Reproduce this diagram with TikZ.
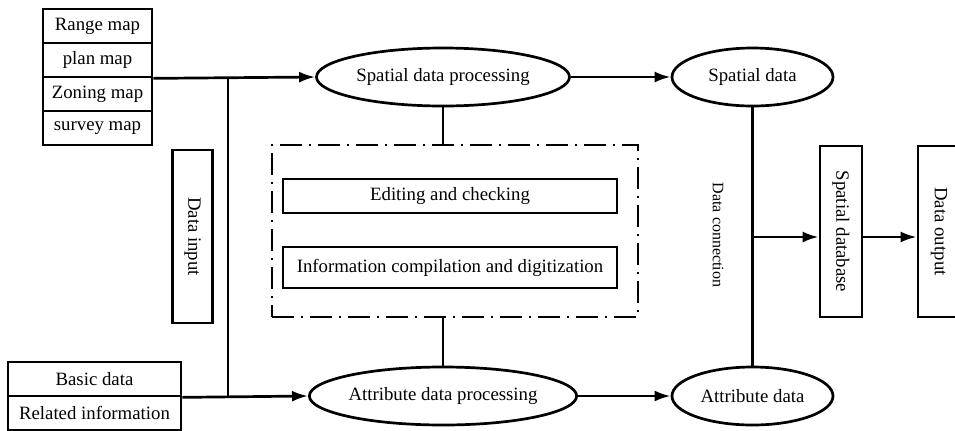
\documentclass[tikz,border=0pt]{standalone}
\usepackage{fontspec}
\setmainfont{Liberation Serif}
\usetikzlibrary{shapes.geometric, arrows.meta}

\begin{document}
\begin{tikzpicture}[x=0.5pt, y=-0.5pt, line width=1.35pt,
  >={Latex[length=8pt,width=5.5pt]},
  font=\fontsize{9.4}{11}\selectfont,
  mapbox/.style={draw, rectangle, inner sep=0pt, minimum width=54.5pt, minimum height=17pt},
  infobox/.style={draw, rectangle, inner sep=0pt, minimum width=86.5pt, minimum height=17pt},
  taskbox/.style={draw, rectangle, inner sep=0pt, minimum width=167pt},
  vbox/.style={draw, rectangle, rotate=-90, inner sep=0pt, minimum height=20pt},
  proc/.style={draw, ellipse, inner sep=0pt, minimum width=126.5pt, minimum height=29pt},
  data/.style={draw, ellipse, inner sep=0pt, minimum width=80.5pt, minimum height=29pt},
  dashdotframe/.style={draw, rectangle, inner sep=0pt, minimum width=183pt, minimum height=86pt,
    dash pattern=on 11pt off 3.5pt on 1pt off 3.5pt}]

  \useasboundingbox (0,0) rectangle (955,430);

  % source maps
  \node[mapbox] (range) at (97.5,26) {Range map};
  \node[mapbox] (plan) at (97.5,60) {plan map};
  \node[mapbox] (zoning) at (97.5,94) {Zoning map};
  \node[mapbox] (survey) at (97.5,128) {survey map};

  % source data
  \node[infobox] (basic) at (94.5,379) {Basic data};
  \node[infobox] (related) at (94.5,413) {Related information};

  % data input
  \node[vbox, minimum width=86.5pt] (input) at (192.5,236.5) {Data input};

  % processing
  \node[proc] (sproc) at (443,77) {Spatial data processing};
  \node[proc] (aproc) at (443,396) {Attribute data processing};

  % editing frame
  \node[dashdotframe] (frame) at (455,231) {};
  \node[taskbox, minimum height=17pt] (edit) at (450,196) {Editing and checking};
  \node[taskbox, minimum height=20.5pt] (info) at (450,267.5) {Information compilation and digitization};

  % results
  \node[data] (sdata) at (752.5,77) {Spatial data};
  \node[data] (adata) at (752.5,396) {Attribute data};
  \node[rotate=-90, font=\fontsize{8}{10}\selectfont] (conn) at (718,235) {Data connection};

  \node[vbox, minimum width=85.5pt, minimum height=21pt] (sdb) at (841,231.5) {Spatial database};
  \node[vbox, minimum width=85.5pt, minimum height=21pt] (dout) at (939,231.5) {Data output};

  % junctions
  \coordinate (j1) at (228,77);
  \coordinate (j2) at (228,396);
  \coordinate (j3) at (752.5,237);

  % connectors (rotated boxes: south is left, north is right)
  \draw[->] (plan.south east) -- (sproc.west);
  \draw[->] (basic.south east) -- (aproc.west);
  \draw (j1) -- (j2);
  \draw[->] (sproc) -- (sdata);
  \draw[->] (aproc) -- (adata);
  \draw (sproc.south) -- (sproc.south |- frame.north);
  \draw (aproc.north |- frame.south) -- (aproc.north);
  \draw (sdata) -- (adata);
  \draw[->] (j3) -- (j3 -| sdb.south);
  \draw[->] (j3 -| sdb.north) -- (j3 -| dout.south);

\end{tikzpicture}
\end{document}
